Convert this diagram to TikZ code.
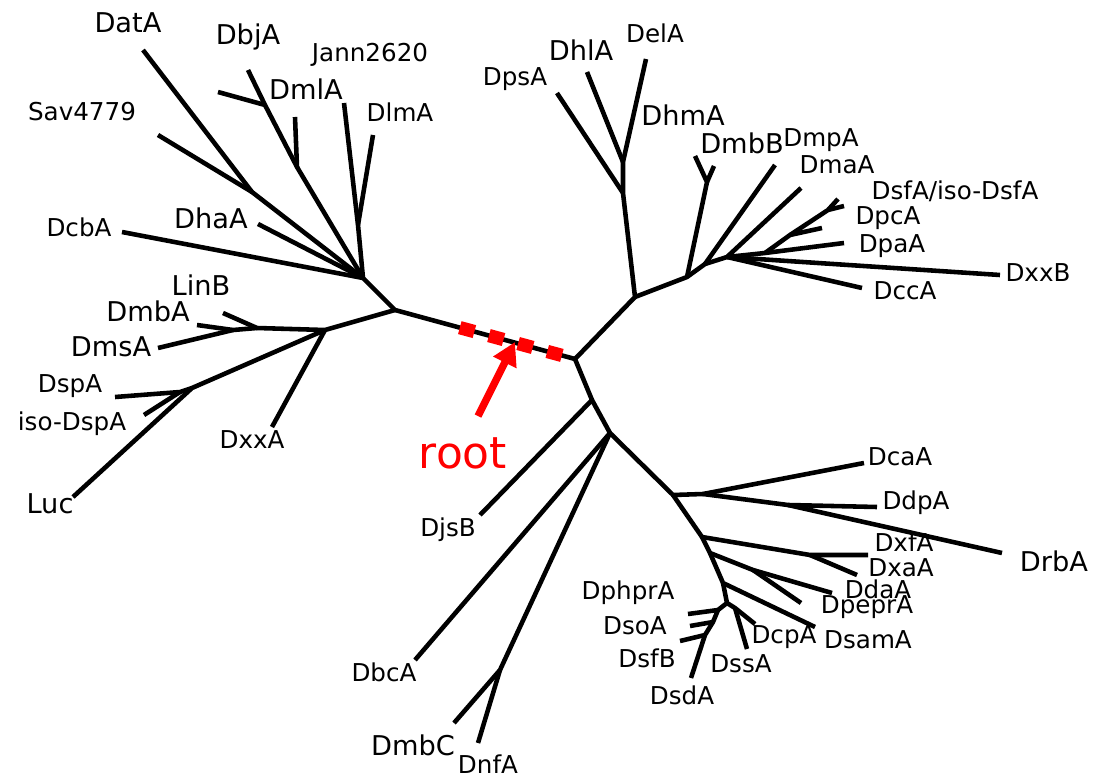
\documentclass[tikz,border=0pt]{standalone}
\usepackage{fontspec}
\setmainfont{DejaVu Sans}
\usetikzlibrary{arrows.meta,calc}

\begin{document}
\begin{tikzpicture}[x=0.02cm, y=-0.02cm,
		branch/.style={line width=2.6pt, line join=round},
		lbl/.style={inner sep=0pt, font=\fontsize{14}{16}\selectfont},
		biglbl/.style={inner sep=0pt, font=\fontsize{15.5}{18}\selectfont}]
		\useasboundingbox[fill=white] (0, 0) rectangle (1099, 777);
		
		% inner branch points
		\coordinate (rl) at (395, 310);
		\coordinate (rr) at (575, 359);
		\coordinate (a) at (363, 278);
		\coordinate (s) at (252, 192);
		\coordinate (b2) at (297, 167);
		\coordinate (b3) at (265, 105);
		\coordinate (j) at (358, 225);
		\coordinate (c) at (325, 330);
		\coordinate (c2) at (257, 328);
		\coordinate (c3) at (233, 330);
		\coordinate (d) at (192, 388);
		\coordinate (d2) at (180, 392);
		\coordinate (J1) at (635, 297);
		\coordinate (J2) at (623, 193);
		\coordinate (J3) at (623, 162);
		\coordinate (J4) at (687, 277);
		\coordinate (J4b) at (705, 264);
		\coordinate (J5) at (707, 182);
		\coordinate (J6) at (727, 257);
		\coordinate (J7) at (765, 253);
		\coordinate (J8) at (790, 235);
		\coordinate (J9) at (828, 210);
		\coordinate (D1) at (592, 400);
		\coordinate (D2) at (610, 433);
		\coordinate (D2b) at (500, 670);
		\coordinate (D3) at (673, 495);
		\coordinate (D4) at (703, 494);
		\coordinate (D5) at (788, 505);
		\coordinate (D6) at (702, 537);
		\coordinate (D6b) at (810, 555);
		\coordinate (D7) at (710, 553);
		\coordinate (D7b) at (753, 570);
		\coordinate (D8) at (723, 583);
		\coordinate (D9) at (727, 603);
		\coordinate (D9b) at (735, 608);
		\coordinate (e1) at (718, 610);
		\coordinate (e2) at (713, 622);
		\coordinate (e3) at (705, 635);
		
		% leaf tips
		\coordinate (tDatA) at (143, 50);
		\coordinate (tSav) at (158, 135);
		\coordinate (tDbjA) at (248, 70);
		\coordinate (tX) at (218, 92);
		\coordinate (tDmlA) at (295, 117);
		\coordinate (tJann) at (344, 103);
		\coordinate (tDlmA) at (373, 135);
		\coordinate (tDhaA) at (258, 224);
		\coordinate (tDcbA) at (122, 232);
		\coordinate (tLinB) at (223, 313);
		\coordinate (tDmbA) at (197, 325);
		\coordinate (tDmsA) at (158, 348);
		\coordinate (tDspA) at (115, 397);
		\coordinate (tIsoDspA) at (144, 415);
		\coordinate (tLuc) at (73, 497);
		\coordinate (tDxxA) at (272, 427);
		\coordinate (tDpsA) at (557, 93);
		\coordinate (tDhlA) at (587, 72);
		\coordinate (tDelA) at (646, 59);
		\coordinate (tDhmA) at (695, 156);
		\coordinate (tDmbB) at (714, 166);
		\coordinate (tDmpA) at (775, 165);
		\coordinate (tDmaA) at (801, 188);
		\coordinate (tDsfA) at (838, 199);
		\coordinate (tIsoDsfA) at (844, 206);
		\coordinate (tDpcA) at (822, 228);
		\coordinate (tDpaA) at (844, 243);
		\coordinate (tDxxB) at (1000, 275);
		\coordinate (tDccA) at (862, 288);
		\coordinate (tDjsB) at (480, 515);
		\coordinate (tDbcA) at (415, 660);
		\coordinate (tDmbC) at (454, 723);
		\coordinate (tDnfA) at (478, 743);
		\coordinate (tDcaA) at (864, 463);
		\coordinate (tDdpA) at (877, 507);
		\coordinate (tDrbA) at (1002, 553);
		\coordinate (tDxfA) at (868, 555);
		\coordinate (tDxaA) at (857, 575);
		\coordinate (tDdaA) at (832, 593);
		\coordinate (tDpeprA) at (801, 603);
		\coordinate (tDsamA) at (815, 627);
		\coordinate (tDcpA) at (755, 624);
		\coordinate (tDssA) at (747, 649);
		\coordinate (tDphprA) at (688, 614);
		\coordinate (tDsoA) at (690, 626);
		\coordinate (tDsfB) at (680, 641);
		\coordinate (tDsdA) at (691, 678);
		
		% left part
		\draw[branch] (rr) -- (rl) -- (a);
		\draw[branch] (a) -- (s) -- (tDatA);
		\draw[branch] (s) -- (tSav);
		\draw[branch] (a) -- (b2) -- (b3) -- (tDbjA);
		\draw[branch] (b3) -- (tX);
		\draw[branch] (b2) -- (tDmlA);
		\draw[branch] (a) -- (j) -- (tJann);
		\draw[branch] (j) -- (tDlmA);
		\draw[branch] (a) -- (tDhaA);
		\draw[branch] (a) -- (tDcbA);
		\draw[branch] (rl) -- (c) -- (c2) -- (tLinB);
		\draw[branch] (c2) -- (c3) -- (tDmbA);
		\draw[branch] (c3) -- (tDmsA);
		\draw[branch] (c) -- (tDxxA);
		\draw[branch] (c) -- (d) -- (tLuc);
		\draw[branch] (d) -- (d2) -- (tDspA);
		\draw[branch] (d2) -- (tIsoDspA);
		
		% upper right part
		\draw[branch] (rr) -- (J1) -- (J2) -- (J3) -- (tDelA);
		\draw[branch] (J2) -- (tDpsA);
		\draw[branch] (J3) -- (tDhlA);
		\draw[branch] (J1) -- (J4) -- (J5) -- (tDhmA);
		\draw[branch] (J5) -- (tDmbB);
		\draw[branch] (J4) -- (J4b) -- (J6) -- (tDxxB);
		\draw[branch] (J4b) -- (tDmpA);
		\draw[branch] (J6) -- (tDmaA);
		\draw[branch] (J6) -- (tDccA);
		\draw[branch] (J6) -- (J7) -- (tDpaA);
		\draw[branch] (J7) -- (J8) -- (tDpcA);
		\draw[branch] (J8) -- (J9) -- (tDsfA);
		\draw[branch] (J9) -- (tIsoDsfA);
		
		% lower right part
		\draw[branch] (rr) -- (D1) -- (tDjsB);
		\draw[branch] (D1) -- (D2) -- (tDbcA);
		\draw[branch] (D2) -- (D2b) -- (tDmbC);
		\draw[branch] (D2b) -- (tDnfA);
		\draw[branch] (D2) -- (D3) -- (D4) -- (tDcaA);
		\draw[branch] (D4) -- (D5) -- (tDdpA);
		\draw[branch] (D5) -- (tDrbA);
		\draw[branch] (D3) -- (D6) -- (D6b) -- (tDxfA);
		\draw[branch] (D6b) -- (tDxaA);
		\draw[branch] (D6) -- (D7) -- (D7b) -- (tDdaA);
		\draw[branch] (D7b) -- (tDpeprA);
		\draw[branch] (D7) -- (D8) -- (tDsamA);
		\draw[branch] (D8) -- (D9) -- (D9b) -- (tDcpA);
		\draw[branch] (D9b) -- (tDssA);
		\draw[branch] (D9) -- (e1) -- (e2) -- (e3) -- (tDsdA);
		\draw[branch] (e1) -- (tDphprA);
		\draw[branch] (e2) -- (tDsoA);
		\draw[branch] (e3) -- (tDsfB);
		
		% root mark
		\draw[red, line width=7.6pt, dash pattern=on 8.6pt off 8.6pt]
			($(rl)!0.36!(rr)$) -- ($(rl)!0.935!(rr)$);
		\node[text=red, inner sep=0pt, font=\fontsize{25}{30}\selectfont] (root) at (463, 453) {root};
		\coordinate (rootTip) at (515, 342);
		\coordinate (rootTail) at (478, 416);
		\draw[red, line width=4.2pt, -{Triangle[length=13pt, width=14pt]}] (rootTail) -- (rootTip);
		
		% labels
		\node[biglbl] (lDatA) at (128, 23) {DatA};
		\node[biglbl] (lDbjA) at (248, 37) {DbjA};
		\node[lbl] (lJann) at (370, 55) {Jann2620};
		\node[biglbl] (lDmlA) at (306, 89) {DmlA};
		\node[lbl] (lDlmA) at (400, 112) {DlmA};
		\node[lbl] (lSav) at (82, 112) {Sav4779};
		\node[lbl] (lDcbA) at (79, 227) {DcbA};
		\node[biglbl] (lDhaA) at (211, 218) {DhaA};
		\node[biglbl] (lLinB) at (201, 285) {LinB};
		\node[biglbl] (lDmbA) at (148, 311) {DmbA};
		\node[biglbl] (lDmsA) at (111, 347) {DmsA};
		\node[lbl] (lDspA) at (70, 386) {DspA};
		\node[lbl] (lIsoDspA) at (72, 424) {iso-DspA};
		\node[biglbl] (lLuc) at (50, 504) {Luc};
		\node[lbl] (lDxxA) at (252, 440) {DxxA};
		\node[lbl] (lDjsB) at (448, 530) {DjsB};
		\node[lbl] (lDbcA) at (384, 672) {DbcA};
		\node[biglbl] (lDmbC) at (413, 745) {DmbC};
		\node[lbl] (lDnfA) at (488, 764) {DnfA};
		\node[lbl] (lDpsA) at (515, 79) {DpsA};
		\node[biglbl] (lDhlA) at (581, 50) {DhlA};
		\node[lbl] (lDelA) at (655, 33) {DelA};
		\node[biglbl] (lDhmA) at (683, 115) {DhmA};
		\node[biglbl] (lDmbB) at (742, 143) {DmbB};
		\node[lbl] (lDmpA) at (821, 140) {DmpA};
		\node[lbl] (lDmaA) at (837, 165) {DmaA};
		\node[lbl] (lDsfA) at (955, 191) {DsfA/iso-DsfA};
		\node[lbl] (lDpcA) at (888, 218) {DpcA};
		\node[lbl] (lDpaA) at (892, 246) {DpaA};
		\node[lbl] (lDxxB) at (1038, 273) {DxxB};
		\node[lbl] (lDccA) at (905, 291) {DccA};
		\node[lbl] (lDcaA) at (900, 457) {DcaA};
		\node[lbl] (lDdpA) at (916, 503) {DdpA};
		\node[biglbl] (lDrbA) at (1054, 561) {DrbA};
		\node[lbl] (lDxfA) at (904, 542) {DxfA};
		\node[lbl] (lDxaA) at (901, 568) {DxaA};
		\node[lbl] (lDdaA) at (878, 589) {DdaA};
		\node[lbl] (lDpeprA) at (867, 607) {DpeprA};
		\node[lbl] (lDsamA) at (868, 640) {DsamA};
		\node[lbl] (lDcpA) at (784, 637) {DcpA};
		\node[lbl] (lDssA) at (741, 664) {DssA};
		\node[lbl] (lDsdA) at (682, 695) {DsdA};
		\node[lbl] (lDsfB) at (647, 658) {DsfB};
		\node[lbl] (lDsoA) at (635, 626) {DsoA};
		\node[lbl] (lDphprA) at (628, 593) {DphprA};
	\end{tikzpicture}
\end{document}
